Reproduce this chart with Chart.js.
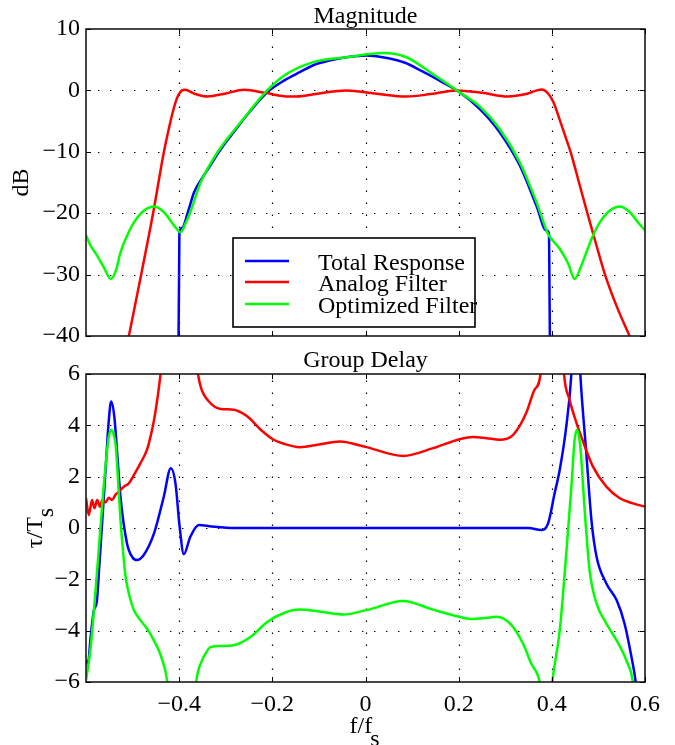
<!DOCTYPE html>
<html><head><meta charset="utf-8">
<script src="https://cdn.jsdelivr.net/npm/chart.js@4/dist/chart.umd.min.js"></script>
<style>
html,body{margin:0;padding:0;background:#fff;}
#wrap{position:relative;width:675px;height:745px;background:#fff;overflow:hidden;}
canvas{position:absolute;left:0;}
#c1{top:0;}
#c2{top:345px;}
</style></head><body>
<div id="wrap"><canvas id="c1" width="675" height="357"></canvas><canvas id="c2" width="675" height="400"></canvas></div>
<script>
// ---------- data ----------
const SERIES = ['Total Response', 'Analog Filter', 'Optimized Filter'];
const COLORS = ['#0000ff', '#ff0000', '#00ff00'];
const FREQ_TICKS = [-0.4, -0.2, 0, 0.2, 0.4, 0.6];
const MAG_TICKS = [10, 0, -10, -20, -30, -40];
const GD_TICKS = [6, 4, 2, 0, -2, -4, -6];

// Magnitude (dB)
const magTotalF  = [-0.403, -0.3995, -0.394, -0.380, -0.368, -0.350, -0.333, -0.310, -0.283, -0.250, -0.211, -0.175, -0.140, -0.112, -0.075, -0.041, 0.002, 0.052, 0.085, 0.117, 0.159, 0.202, 0.245, 0.288, 0.331, 0.367, 0.388, 0.394, 0.3975];
const magTotalDB = [-60, -23.2, -22.4, -19.5, -16.6, -14.2, -12.2, -9.5, -6.8, -3.6, -0.3, 1.6, 3.0, 4.1, 4.9, 5.4, 5.7, 5.2, 4.5, 3.3, 1.6, -0.3, -3.0, -6.8, -12.2, -18.8, -22.8, -23.3, -60];

const magAnalogF  = [-0.508, -0.480, -0.455, -0.433, -0.420, -0.410, -0.402, -0.394, -0.388, -0.365, -0.340, -0.300, -0.261, -0.215, -0.165, -0.148, -0.100, -0.041, 0.020, 0.088, 0.140, 0.195, 0.250, 0.306, 0.345, 0.378, 0.392, 0.404, 0.417, 0.429, 0.441, 0.459, 0.477, 0.496, 0.515, 0.541, 0.567];
const magAnalogDB = [-40, -29.4, -19.6, -10.1, -5.5, -2.5, -0.8, 0, 0.1, -0.6, -1.0, -0.5, 0.1, -0.4, -1.0, -1.0, -0.5, 0, -0.5, -1.0, -0.6, 0, -0.4, -1.0, -0.6, 0.15, -0.5, -2.0, -4.8, -7.5, -10.2, -15.2, -20.2, -25.3, -30.2, -35.5, -40];

const magOptF  = [-0.600, -0.590, -0.576, -0.562, -0.547, -0.536, -0.526, -0.512, -0.497, -0.476, -0.454, -0.433, -0.411, -0.397, -0.386, -0.376, -0.354, -0.318, -0.268, -0.211, -0.175, -0.112, -0.041, 0.038, 0.088, 0.138, 0.202, 0.245, 0.288, 0.331, 0.367, 0.392, 0.417, 0.435, 0.449, 0.462, 0.474, 0.488, 0.503, 0.524, 0.546, 0.567, 0.585, 0.600];
const magOptDB = [-23.6, -25.3, -26.9, -28.8, -30.7, -29.4, -26.4, -23.7, -21.5, -19.6, -18.9, -19.8, -22.0, -23.1, -21.6, -19.8, -15.0, -10.1, -5.2, 0, 2.4, 4.6, 5.4, 6.1, 5.4, 3.0, -0.3, -2.6, -6.3, -11.7, -18.2, -23.4, -25.8, -28.2, -30.7, -28.8, -26.4, -23.7, -21.5, -19.6, -18.9, -19.8, -21.5, -22.8];

// Group delay (tau / Ts)
const gdTotalF = [-0.600, -0.596, -0.590, -0.583, -0.577, -0.572, -0.565, -0.558, -0.551, -0.546, -0.539, -0.533, -0.526, -0.512, -0.500, -0.491, -0.476, -0.454, -0.433, -0.418, -0.408, -0.399, -0.390, -0.376, -0.358, -0.330, -0.280, 0.000, 0.350, 0.377, 0.392, 0.406, 0.417, 0.431, 0.442, 0.451, 0.461, 0.474, 0.485, 0.496, 0.517, 0.539, 0.556, 0.571, 0.580, 0.590];
const gdTotalT = [-5.16, -5.3, -4.25, -3.2, -2.9, -1.64, 0.31, 2.27, 4.2, 4.93, 4.3, 2.9, 1.22, -0.6, -1.15, -1.25, -1.05, -0.21, 1.22, 2.33, 1.75, 0.05, -1.02, -0.34, 0.12, 0.06, 0.0, 0.0, 0.0, -0.08, 0.18, 1.35, 2.27, 3.96, 6.04, 10, 6.04, 2.92, 0.31, -1.12, -2.16, -2.81, -3.72, -5.03, -6.0, -8];

const gdAnalogF = [-0.600, -0.594, -0.587, -0.582, -0.576, -0.570, -0.565, -0.558, -0.551, -0.544, -0.537, -0.529, -0.519, -0.508, -0.497, -0.483, -0.469, -0.461, -0.454, -0.447, -0.439, -0.400, -0.361, -0.354, -0.336, -0.311, -0.283, -0.254, -0.225, -0.197, -0.175, -0.141, -0.100, -0.055, 0.002, 0.081, 0.145, 0.202, 0.231, 0.260, 0.288, 0.317, 0.345, 0.363, 0.376, 0.400, 0.426, 0.438, 0.453, 0.467, 0.488, 0.517, 0.546, 0.574, 0.600];
const gdAnalogT = [1.16, 0.51, 1.09, 0.77, 1.09, 0.83, 1.09, 1.0, 1.18, 1.09, 1.29, 1.42, 1.61, 1.74, 2.07, 2.53, 3.05, 3.6, 4.2, 5.0, 6.17, 15, 6.2, 5.52, 4.93, 4.64, 4.61, 4.35, 3.83, 3.44, 3.28, 3.15, 3.25, 3.37, 3.15, 2.81, 3.11, 3.46, 3.55, 3.5, 3.44, 3.63, 4.48, 5.39, 6.04, 15, 6.04, 5.0, 4.09, 3.37, 2.40, 1.61, 1.16, 0.96, 0.83];

const gdOptF = [-0.600, -0.590, -0.583, -0.576, -0.569, -0.562, -0.556, -0.551, -0.545, -0.540, -0.536, -0.531, -0.526, -0.520, -0.515, -0.506, -0.497, -0.485, -0.472, -0.461, -0.451, -0.443, -0.436, -0.426, -0.421, -0.395, -0.368, -0.363, -0.351, -0.342, -0.333, -0.310, -0.283, -0.247, -0.211, -0.175, -0.141, -0.100, -0.048, 0.002, 0.081, 0.145, 0.202, 0.231, 0.260, 0.281, 0.310, 0.338, 0.356, 0.374, 0.379, 0.388, 0.397, 0.401, 0.417, 0.431, 0.442, 0.449, 0.454, 0.461, 0.471, 0.481, 0.496, 0.517, 0.539, 0.560, 0.574, 0.585];
const gdOptT = [-5.94, -4.64, -3.2, -1.64, 0.0, 1.61, 2.8, 3.57, 3.83, 3.6, 3.18, 1.8, 0.31, -1.0, -1.9, -2.7, -3.2, -3.55, -3.85, -4.15, -4.5, -4.8, -5.16, -5.94, -7, -20, -7, -5.94, -5.16, -4.85, -4.64, -4.6, -4.57, -4.25, -3.66, -3.31, -3.18, -3.25, -3.37, -3.2, -2.84, -3.18, -3.46, -3.55, -3.5, -3.46, -3.72, -4.5, -5.29, -6.0, -7, -20, -7, -6.0, -3.98, -0.99, 1.61, 3.44, 3.83, 3.18, 0.57, -1.64, -2.94, -3.72, -4.38, -5.16, -6.0, -8];

// ---------- helpers ----------
const FONT = '"Liberation Serif","Times New Roman",Times,serif';
const FS = 24;
const pts = (xs, ys) => xs.map((x, i) => ({x: x, y: ys[i]}));
const fmt = v => { const r = Math.round(v * 10) / 10; return r < 0 ? '\u2212' + String(Math.abs(r)) : String(r); };

function ds(i, xs, ys) {
  return {
    label: SERIES[i], data: pts(xs, ys), borderColor: COLORS[i], backgroundColor: COLORS[i],
    borderWidth: 2.5, pointRadius: 0, cubicInterpolationMode: 'monotone', fill: false,
    clip: 0, order: 3 - i
  };
}

const matlabAxes = {
  id: 'matlabAxes',
  beforeDatasetsDraw(chart) {
    const {ctx, chartArea: a, scales: {x, y}} = chart;
    ctx.save();
    ctx.strokeStyle = '#000'; ctx.lineWidth = 1.2; ctx.setLineDash([1.4, 10.6]);
    x.ticks.forEach(t => {
      const px = Math.round(x.getPixelForValue(t.value)) + 0.5;
      if (px <= a.left + 1 || px >= a.right - 1) return;
      ctx.beginPath(); ctx.moveTo(px, a.bottom); ctx.lineTo(px, a.top); ctx.stroke();
    });
    y.ticks.forEach(t => {
      const py = Math.round(y.getPixelForValue(t.value)) + 0.5;
      if (py <= a.top + 1 || py >= a.bottom - 1) return;
      ctx.beginPath(); ctx.moveTo(a.left, py); ctx.lineTo(a.right, py); ctx.stroke();
    });
    ctx.restore();
  },
  afterDatasetsDraw(chart, args, o) {
    const {ctx, chartArea: a, scales: {x, y}} = chart;
    ctx.save();
    ctx.setLineDash([]);
    ctx.strokeStyle = '#1a1a1a'; ctx.lineWidth = 1.6;
    ctx.strokeRect(a.left, a.top, a.right - a.left, a.bottom - a.top);
    ctx.lineWidth = 1; ctx.strokeStyle = '#000';
    const TL = 5;
    x.ticks.forEach(t => {
      const px = Math.round(x.getPixelForValue(t.value)) + 0.5;
      ctx.beginPath();
      ctx.moveTo(px, a.bottom); ctx.lineTo(px, a.bottom - TL);
      ctx.moveTo(px, a.top); ctx.lineTo(px, a.top + TL);
      ctx.stroke();
    });
    y.ticks.forEach(t => {
      const py = Math.round(y.getPixelForValue(t.value)) + 0.5;
      ctx.beginPath();
      ctx.moveTo(a.left, py); ctx.lineTo(a.left + TL, py);
      ctx.moveTo(a.right, py); ctx.lineTo(a.right - TL, py);
      ctx.stroke();
    });
    // legend
    if (o.legend) {
      const L = o.legend;
      ctx.fillStyle = '#fff';
      ctx.fillRect(L.x, L.y, L.w, L.h);
      ctx.strokeStyle = '#000'; ctx.lineWidth = 1.6;
      ctx.strokeRect(L.x, L.y, L.w, L.h);
      ctx.font = FS + 'px ' + FONT; ctx.textBaseline = 'alphabetic'; ctx.textAlign = 'left';
      SERIES.forEach((s, i) => {
        const cy = L.rows[i];
        ctx.strokeStyle = COLORS[i]; ctx.lineWidth = 2.5;
        ctx.beginPath(); ctx.moveTo(L.lx0, cy); ctx.lineTo(L.lx1, cy); ctx.stroke();
        ctx.fillStyle = '#000';
        ctx.fillText(s, L.tx, cy + 8.5);
      });
    }
    ctx.restore();
  },
  afterDraw(chart, args, o) {
    const {ctx, chartArea: a} = chart;
    ctx.save();
    ctx.fillStyle = '#000';
    ctx.font = FS + 'px ' + FONT;
    ctx.textBaseline = 'alphabetic';
    ctx.textAlign = 'center';
    ctx.fillText(o.title, (a.left + a.right) / 2, o.titleY);
    // y label (rotated), with optional subscript
    ctx.save();
    ctx.translate(o.ylabelX, (a.top + a.bottom) / 2);
    ctx.rotate(-Math.PI / 2);
    ctx.textAlign = 'left';
    const w1 = ctx.measureText(o.ylabel).width;
    const w2 = o.ysub ? ctx.measureText(o.ysub).width : 0;
    const x0 = -(w1 + w2) / 2;
    ctx.fillText(o.ylabel, x0, 0);
    if (o.ysub) ctx.fillText(o.ysub, x0 + w1, 11);
    ctx.restore();
    if (o.xlabel) {
      ctx.textAlign = 'left';
      const w1 = ctx.measureText(o.xlabel).width;
      const w2 = ctx.measureText(o.xsub).width;
      const x0 = (a.left + a.right) / 2 - (w1 + w2) / 2;
      ctx.fillText(o.xlabel, x0, o.xlabelY);
      ctx.fillText(o.xsub, x0 + w1 - 2, o.xlabelY + 13);
    }
    ctx.restore();
  }
};

function xScale(height, showLabels) {
  return {
    type: 'linear', min: -0.6, max: 0.6,
    afterBuildTicks: s => { s.ticks = FREQ_TICKS.map(v => ({value: v})); },
    afterFit: s => { s.height = height; },
    grid: {display: false, drawTicks: false}, border: {display: false},
    ticks: {display: showLabels, padding: 8, color: '#000', font: {family: FONT, size: FS}, callback: v => fmt(v), maxRotation: 0, autoSkip: false}
  };
}
function yScale(min, max, ticks) {
  return {
    type: 'linear', min: min, max: max,
    afterBuildTicks: s => { s.ticks = ticks.map(v => ({value: v})); },
    afterFit: s => { s.width = 86; },
    grid: {display: false, drawTicks: false}, border: {display: false},
    ticks: {padding: 6, color: '#000', font: {family: FONT, size: FS}, callback: v => fmt(v), autoSkip: false}
  };
}

new Chart(document.getElementById('c1'), {
  type: 'line',
  data: {datasets: [ds(0, magTotalF, magTotalDB), ds(1, magAnalogF, magAnalogDB), ds(2, magOptF, magOptDB)]},
  options: {
    responsive: false, animation: false, events: [],
    layout: {padding: {left: 0, right: 30, top: 29, bottom: 0}},
    scales: {x: xScale(21, false), y: yScale(-40, 10, MAG_TICKS)},
    plugins: {
      legend: {display: false}, tooltip: {enabled: false}, title: {display: false},
      matlabAxes: {title: 'Magnitude', titleY: 23, ylabel: 'dB', ylabelX: 28,
        legend: {x: 233, y: 238, w: 242, h: 89, lx0: 245, lx1: 289, tx: 318, rows: [261, 282, 304]}}
    }
  },
  plugins: [matlabAxes]
});

new Chart(document.getElementById('c2'), {
  type: 'line',
  data: {datasets: [ds(0, gdTotalF, gdTotalT), ds(1, gdAnalogF, gdAnalogT), ds(2, gdOptF, gdOptT)]},
  options: {
    responsive: false, animation: false, events: [],
    layout: {padding: {left: 0, right: 30, top: 29, bottom: 0}},
    scales: {x: xScale(63, true), y: yScale(-6, 6, GD_TICKS)},
    plugins: {
      legend: {display: false}, tooltip: {enabled: false}, title: {display: false},
      matlabAxes: {title: 'Group Delay', titleY: 22, ylabel: '\u03c4/T', ysub: 's', ylabelX: 42,
        xlabel: 'f/f', xsub: 's', xlabelY: 388}
    }
  },
  plugins: [matlabAxes]
});
</script>
</body></html>
